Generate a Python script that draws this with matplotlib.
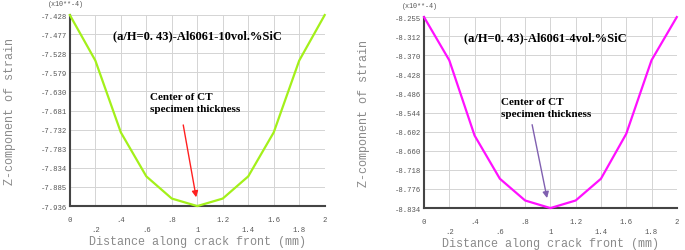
import numpy as np
import matplotlib.pyplot as plt

# distance along crack front (mm)
x_pos = [0.0, 0.2, 0.4, 0.6, 0.8, 1.0, 1.2, 1.4, 1.6, 1.8, 2.0]

# z-component of strain (x10**-4)
strain_10 = [-7.428, -7.549, -7.740, -7.857, -7.916, -7.936, -7.916, -7.857, -7.740, -7.549, -7.428]
strain_4 = [-8.255, -8.386, -8.614, -8.745, -8.811, -8.834, -8.811, -8.745, -8.609, -8.386, -8.255]

yticks_10 = ["-7.428", "-7.477", "-7.528", "-7.579", "-7.630", "-7.681",
             "-7.732", "-7.783", "-7.834", "-7.885", "-7.936"]
yticks_4 = ["-8.255", "-8.312", "-8.370", "-8.428", "-8.486", "-8.544",
            "-8.602", "-8.660", "-8.718", "-8.776", "-8.834"]

xticks_even = [0, 0.4, 0.8, 1.2, 1.6, 2.0]
xlabels_even = ["0", ".4", ".8", "1.2", "1.6", "2"]
xticks_odd = [0.2, 0.6, 1.0, 1.4, 1.8]
xlabels_odd = [".2", ".6", "1", "1.4", "1.8"]

titles = ["(a/H=0. 43)-Al6061-10vol.%SiC", "(a/H=0. 43)-Al6061-4vol.%SiC"]
note = "Center of CT\nspecimen thickness"

mono = "Liberation Mono"
serif = "Liberation Serif"
grey = "#8a8a8a"


def draw(ax, y, yticks, color, title, title_x, arrow_color, note_xy, arrow_from, arrow_to):
    ymax = float(yticks[0])
    ymin = float(yticks[-1])
    ax.plot(x_pos, y, color=color, lw=1.6, zorder=3, clip_on=False)
    ax.set_xlim(0, 2)
    ax.set_ylim(ymin, ymax)

    ax.set_yticks(np.linspace(ymax, ymin, len(yticks)))
    ax.set_yticklabels(yticks, fontfamily=mono, fontsize=5.2, color="#555555")
    ax.set_xticks(xticks_even)
    ax.set_xticklabels(xlabels_even, fontfamily=mono, fontsize=5.2, color="#555555")
    ax.set_xticks(xticks_odd, minor=True)
    ax.set_xticklabels(xlabels_odd, minor=True, fontfamily=mono, fontsize=5.2, color="#555555")
    ax.tick_params(axis="both", which="both", length=0)
    ax.tick_params(axis="y", pad=2)
    ax.tick_params(axis="x", which="major", pad=7)
    ax.tick_params(axis="x", which="minor", pad=14)

    ax.grid(True, which="both", color="#d4d4d4", lw=0.7)
    ax.set_axisbelow(True)
    for side in ["top", "right"]:
        ax.spines[side].set_visible(False)
    for side in ["left", "bottom"]:
        ax.spines[side].set_color("#444444")
        ax.spines[side].set_linewidth(1.5)

    ax.set_xlabel("Distance along crack front (mm)", fontfamily=mono, fontsize=8.5,
                  color=grey, labelpad=1.5)
    ax.set_ylabel("Z-component of strain", fontfamily=mono, fontsize=8.5,
                  color=grey, labelpad=18)
    ax.text(-0.015, 1.06, "(x10**-4)", transform=ax.transAxes, ha="center", va="center",
            fontfamily=mono, fontsize=4.9, color="#555555")

    ax.text(title_x, ymax - 0.105 * (ymax - ymin), title, ha="center", va="center",
            fontfamily=serif, fontweight="bold", fontsize=9)
    ax.text(note_xy[0], note_xy[1], note, ha="left", va="center", linespacing=1.4,
            fontfamily=serif, fontweight="bold", fontsize=8)
    ax.annotate("", xy=arrow_to, xytext=arrow_from,
                arrowprops=dict(arrowstyle="-|>", color=arrow_color, lw=1.0,
                                mutation_scale=9))


def main():
    fig = plt.figure(figsize=(6.85, 2.51), dpi=100)
    ax1 = fig.add_axes([0.102, 0.175, 0.372, 0.761])
    ax2 = fig.add_axes([0.619, 0.167, 0.369, 0.761])

    draw(ax1, strain_10, yticks_10, "#a3f01a", titles[0], 1.0, "#ff2020",
         (0.625, -7.661), (0.886, -7.713), (0.995, -7.920))
    draw(ax2, strain_4, yticks_4, "#ff10ff", titles[1], 0.957, "#8060b0",
         (0.61, -8.528), (0.851, -8.573), (0.978, -8.812))

    fig.savefig("out.png", dpi=100)


if __name__ == "__main__":

    main()
